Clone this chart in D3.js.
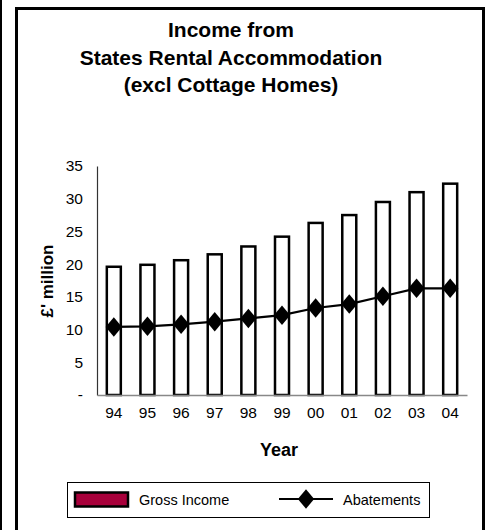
<!DOCTYPE html>
<html><head><meta charset="utf-8">
<script src="https://cdn.jsdelivr.net/npm/d3@7"></script>
<style>body{margin:0;background:#fff}svg{display:block}text{font-family:"Liberation Sans",Arial,sans-serif}</style>
</head><body>
<svg id="c" width="489" height="530"></svg>
<script>
const years = ["94","95","96","97","98","99","00","01","02","03","04"];
const grossIncome = [19.6,19.9,20.6,21.5,22.7,24.2,26.3,27.5,29.5,31.0,32.3];
const abatements = [10.4,10.5,10.8,11.2,11.7,12.2,13.3,13.9,15.1,16.3,16.3];
const yTicks = [0,5,10,15,20,25,30,35];
const titleLines = ["Income from","States Rental Accommodation","(excl Cottage Homes)"];

const svg = d3.select("#c");
svg.append("rect").attr("x",0).attr("y",0).attr("width",2).attr("height",530).attr("fill","#000");
svg.append("rect").attr("x",16.5).attr("y",8.5).attr("width",467).attr("height",530)
  .attr("fill","#fff").attr("stroke","#000").attr("stroke-width",3);

svg.selectAll("text.title").data(titleLines).enter().append("text")
  .attr("x",231).attr("y",(d,i)=>37+i*27.5).attr("text-anchor","middle")
  .attr("font-size",21).attr("font-weight","bold").text(d=>d);

const x = d3.scaleBand().domain(years).range([97,467]).padding(0);
const y = d3.scaleLinear().domain([0,35]).range([395,166]);

// y axis
const ya = svg.append("g").attr("transform","translate(97,0)")
  .call(d3.axisLeft(y).tickValues(yTicks).tickSize(0).tickPadding(14).tickFormat(d=>d===0?"-":d));
ya.select(".domain").attr("stroke","#333").attr("stroke-width",1.2);
ya.selectAll("text").attr("font-size",15.5).attr("fill","#000").attr("font-family","Liberation Sans, Arial, sans-serif");

// bars
svg.selectAll("rect.bar").data(years).enter().append("rect")
  .attr("x",d=>x(d)+x.bandwidth()/2-7).attr("width",14)
  .attr("y",(d,i)=>y(grossIncome[i])).attr("height",(d,i)=>y(0)-y(grossIncome[i]))
  .attr("fill","#fff").attr("stroke","#000").attr("stroke-width",2.5);

// x axis
const xa = svg.append("g").attr("transform","translate(0,395)")
  .call(d3.axisBottom(x).tickSize(0).tickPadding(12));
xa.select(".domain").attr("stroke","#888").attr("stroke-width",1.5);
xa.selectAll("text").attr("font-size",15.5).attr("fill","#000").attr("font-family","Liberation Sans, Arial, sans-serif");

// line
const line = d3.line().x((d,i)=>x(years[i])+x.bandwidth()/2).y(d=>y(d));
svg.append("path").datum(abatements).attr("d",line).attr("fill","none").attr("stroke","#000").attr("stroke-width",2.2);
const diamond = d3.symbol().type(d3.symbolDiamond).size(110);
svg.selectAll("path.m").data(abatements).enter().append("path")
  .attr("transform",(d,i)=>`translate(${x(years[i])+x.bandwidth()/2},${y(d)}) scale(1.45,1)`)
  .attr("d",diamond).attr("fill","#000");

// axis titles
svg.append("text").attr("transform","translate(53,281) rotate(-90)").attr("text-anchor","middle")
  .attr("font-size",17).attr("font-weight","bold").text("£' million");
svg.append("text").attr("x",279).attr("y",456).attr("text-anchor","middle")
  .attr("font-size",18).attr("font-weight","bold").text("Year");

// legend
const lg = svg.append("g");
lg.append("rect").attr("x",67.5).attr("y",482.5).attr("width",362).attr("height",35).attr("fill","#fff").attr("stroke","#000").attr("stroke-width",1);
lg.append("rect").attr("x",75).attr("y",492.5).attr("width",53).attr("height",14).attr("fill","#A8003B").attr("stroke","#000").attr("stroke-width",2.5);
lg.append("text").attr("x",139).attr("y",504.5).attr("font-size",14.5).text("Gross Income");
lg.append("line").attr("x1",279).attr("x2",333).attr("y1",499).attr("y2",499).attr("stroke","#000").attr("stroke-width",2.2);
lg.append("path").attr("transform","translate(306,499) scale(1.45,1)").attr("d",diamond).attr("fill","#000");
lg.append("text").attr("x",343).attr("y",504.5).attr("font-size",14.5).text("Abatements");
</script>
</body></html>
